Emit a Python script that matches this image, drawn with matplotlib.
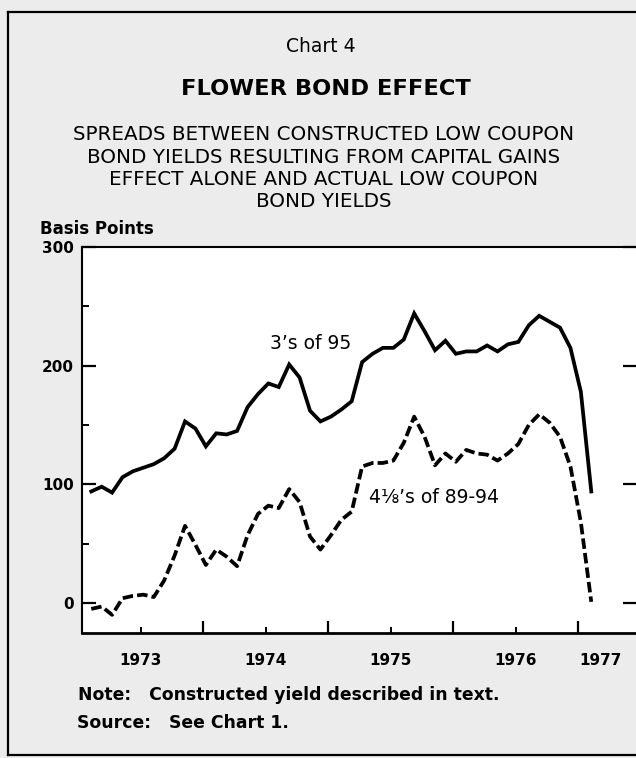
import matplotlib
matplotlib.use("Agg")
import matplotlib.pyplot as plt
from matplotlib.lines import Line2D
from matplotlib.ticker import FixedLocator, NullFormatter, FixedFormatter
from matplotlib.transforms import blended_transform_factory, ScaledTranslation

# ---------------- data ----------------
months = [f"{1973 + (i // 12)}-{(i % 12) + 1:02d}" for i in range(1, 50)]  # Feb 1973 .. Feb 1977
threes_of_95 = [94, 98, 93, 106, 111, 114, 117, 122, 130, 153, 147, 132, 143, 142, 145,
                165, 176, 185, 182, 201, 190, 162, 153, 157, 163, 170, 203, 210, 215, 215,
                222, 244, 229, 213, 221, 210, 212, 212, 217, 212, 218, 220, 234, 242, 237,
                232, 215, 178, 94]
four_eighths = [-5, -3, -10, 4, 6, 7, 5, 19, 40, 65, 49, 32, 45, 39, 31,
                57, 75, 82, 80, 96, 85, 56, 45, 57, 70, 77, 115, 118, 118, 120,
                135, 157, 140, 116, 126, 119, 129, 126, 125, 120, 126, 134, 150, 159, 152,
                140, 115, 68, 1]
year_labels = ["1973", "1974", "1975", "1976"]
year_label_pos = [1973.5, 1974.5, 1975.5, 1976.5]
last_year_label = "1977"
last_year_pos = 1977.18
year_bounds = [1974, 1975, 1976, 1977]
y_major = [0, 100, 200, 300]
y_minor = [50, 150, 250]

x = [int(m[:4]) + (int(m[5:]) - 1 + 0.25) / 12 for m in months]

W, H = 636, 758
plt.rcParams["font.family"] = ["DejaVu Sans"]

fig = plt.figure(figsize=(W / 100, H / 100), dpi=100, facecolor="#ececec")


def fx(px):
    return px / W


def fy(py):
    return 1 - py / H


ax = fig.add_axes([fx(82), fy(633), fx(637) - fx(82), fy(247) - fy(633)])
ax.set_facecolor("white")

ax.plot(x, threes_of_95, color="black", lw=2.7, solid_joinstyle="miter")
ax.plot(x, four_eighths, color="black", lw=2.7, dashes=(2.8, 1.1),
        dash_capstyle="butt")

ax.set_xlim(1973.03, 1977.47)
ax.set_ylim(-25.3, 300)

ax.xaxis.set_major_locator(FixedLocator(year_bounds))
ax.xaxis.set_major_formatter(NullFormatter())
ax.xaxis.set_minor_locator(FixedLocator(year_label_pos))
ax.xaxis.set_minor_formatter(FixedFormatter(year_labels))
ax.tick_params(axis="x", which="major", direction="in", length=9, width=1.6,
               top=False, bottom=True)
ax.tick_params(axis="x", which="minor", direction="in", length=4, width=1.4,
               labelsize=11, pad=14.5, top=False)
for lab in ax.xaxis.get_minorticklabels():
    lab.set_fontweight("bold")
ax.text(last_year_pos, 0.0, last_year_label, fontsize=11, fontweight="bold",
        ha="center", va="top", clip_on=False,
        transform=blended_transform_factory(ax.transData, ax.transAxes)
        + ScaledTranslation(0, -20 / 100, fig.dpi_scale_trans))

ax.yaxis.set_major_locator(FixedLocator(y_major))
ax.yaxis.set_minor_locator(FixedLocator(y_minor))
ax.set_yticklabels([str(v) for v in y_major])
ax.tick_params(axis="y", which="major", direction="in", length=10, width=1.6,
               labelsize=11, pad=6, left=True, right=True)
ax.tick_params(axis="y", which="minor", direction="in", length=5, width=1.4,
               left=True, right=False)
for lab in ax.yaxis.get_majorticklabels():
    lab.set_fontweight("bold")

for side in ["left", "top"]:
    ax.spines[side].set_linewidth(1.5)
ax.spines["bottom"].set_linewidth(2.0)
ax.spines["right"].set_visible(False)

# annotations (positions in data units)
ax.text(1974.534, 219, "3\u2019s of 95", fontsize=13.5, ha="left", va="center")
ax.text(1975.326, 88.5, "4\u215b\u2019s of 89-94", fontsize=13.5, ha="left", va="center")

# titles
fig.text(fx(321), fy(46), "Chart 4", fontsize=13.5, ha="center", va="center")
fig.text(fx(326), fy(89), "FLOWER BOND EFFECT", fontsize=16.2, fontweight="bold",
         ha="center", va="center")
sub = ["SPREADS BETWEEN CONSTRUCTED LOW COUPON",
       "BOND YIELDS RESULTING FROM CAPITAL GAINS",
       "EFFECT ALONE AND ACTUAL LOW COUPON",
       "BOND YIELDS"]
for i, line in enumerate(sub):
    fig.text(fx(324), fy(135 + 22.3 * i), line, fontsize=14.3, ha="center", va="center")

fig.text(fx(40), fy(229), "Basis Points", fontsize=12, fontweight="bold",
         ha="left", va="center")
fig.text(fx(78), fy(695), "Note:   Constructed yield described in text.", fontsize=12.4,
         fontweight="bold", ha="left", va="center")
fig.text(fx(77), fy(723), "Source:   See Chart 1.", fontsize=12.4, fontweight="bold",
         ha="left", va="center")

# outer frame
for (x0, y0, x1, y1) in [(8, 12, 636, 12), (8, 12, 8, 755), (8, 755, 636, 755)]:
    fig.add_artist(Line2D([fx(x0), fx(x1)], [fy(y0), fy(y1)], color="black", lw=1.6,
                          transform=fig.transFigure))

fig.savefig("out.png", dpi=100, facecolor=fig.get_facecolor())
